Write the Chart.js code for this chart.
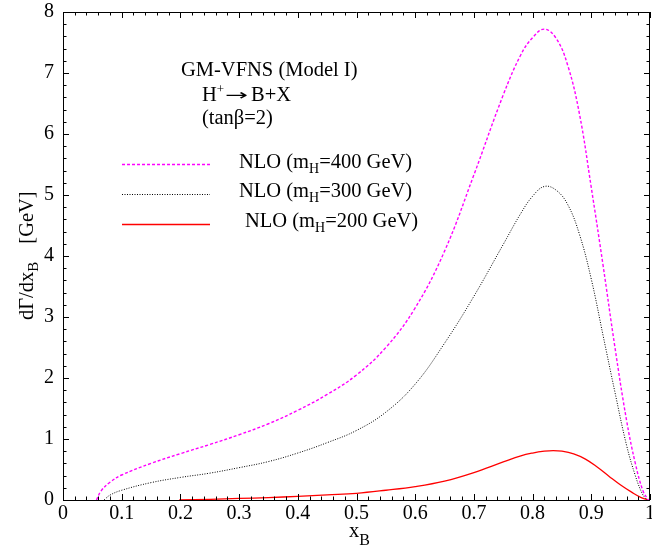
<!DOCTYPE html>
<html>
<head>
<meta charset="utf-8">
<script src="https://cdn.jsdelivr.net/npm/chart.js@4"></script>
<style>
  html, body { margin: 0; padding: 0; background: #fff; }
  #wrap { width: 652px; height: 554px; }
</style>
</head>
<body>
<div id="wrap"><canvas id="c" width="652" height="554"></canvas></div>
<script>
// x_B grid and dGamma/dx_B values [GeV] for each charged-Higgs mass
const xB400 = [0.057, 0.065, 0.08, 0.10, 0.15, 0.20, 0.25, 0.30, 0.35, 0.40, 0.45, 0.50, 0.55, 0.60, 0.65, 0.70, 0.75, 0.78, 0.80, 0.82, 0.84, 0.86, 0.88, 0.90, 0.92, 0.94, 0.96, 0.975, 0.988, 0.997];
const dG400 = [0, 0.15, 0.29, 0.41, 0.60, 0.76, 0.91, 1.07, 1.25, 1.47, 1.73, 2.05, 2.50, 3.15, 4.08, 5.33, 6.64, 7.30, 7.58, 7.72, 7.57, 7.12, 6.32, 5.12, 3.85, 2.52, 1.31, 0.60, 0.15, 0];

const xB300 = [0.07, 0.08, 0.10, 0.15, 0.20, 0.25, 0.30, 0.35, 0.40, 0.45, 0.50, 0.55, 0.60, 0.65, 0.70, 0.75, 0.78, 0.80, 0.82, 0.84, 0.86, 0.88, 0.90, 0.92, 0.94, 0.96, 0.975, 0.987, 0.995];
const dG300 = [0, 0.08, 0.16, 0.285, 0.37, 0.44, 0.53, 0.63, 0.77, 0.94, 1.14, 1.44, 1.90, 2.57, 3.34, 4.19, 4.70, 4.98, 5.14, 5.08, 4.84, 4.35, 3.62, 2.70, 1.78, 0.90, 0.40, 0.10, 0];

const xB200 = [0.198, 0.25, 0.30, 0.35, 0.40, 0.45, 0.50, 0.55, 0.60, 0.65, 0.70, 0.75, 0.78, 0.80, 0.82, 0.835, 0.85, 0.87, 0.89, 0.91, 0.93, 0.95, 0.97, 0.985, 0.997];
const dG200 = [0, 0.01, 0.025, 0.04, 0.06, 0.085, 0.11, 0.16, 0.22, 0.31, 0.45, 0.625, 0.725, 0.77, 0.80, 0.81, 0.80, 0.755, 0.67, 0.54, 0.39, 0.245, 0.12, 0.04, 0];

// axis tick labels
const xTickLabels = ['0', '0.1', '0.2', '0.3', '0.4', '0.5', '0.6', '0.7', '0.8', '0.9', '1'];
const yTickLabels = ['0', '1', '2', '3', '4', '5', '6', '7', '8'];

// legend entries: [text before subscript, subscript, text after]
const seriesLabels = [
  ['NLO (m', 'H', '=400 GeV)'],
  ['NLO (m', 'H', '=300 GeV)'],
  ['NLO (m', 'H', '=200 GeV)']
];
const headerLines = ['GM-VFNS (Model I)', '(tan\u03B2=2)'];
const decayText = ['H', '+', '\u2192', 'B+X'];
const xTitle = ['x', 'B'];
const yTitle = ['d\u0393/dx', 'B', '[GeV]'];

const SERIF = '"Liberation Serif", "DejaVu Serif", serif';
const FS = 20.5;

function pts(xs, ys) { return xs.map((x, i) => ({ x: x, y: ys[i] })); }

const styles = [
  { color: '#ff00ff', width: 1.4, dash: [3, 2] },
  { color: '#000000', width: 1.0, dash: [1, 1.5] },
  { color: '#ff0000', width: 1.3, dash: [] }
];

// Frame with inward major/minor ticks on all four sides
const framePlugin = {
  id: 'frame',
  afterDatasetsDraw(chart) {
    const { ctx, chartArea: a, scales: { x, y } } = chart;
    ctx.save();
    ctx.strokeStyle = '#000';
    ctx.lineWidth = 1;
    ctx.beginPath();
    ctx.rect(a.left + 0.5, a.top + 0.5, a.right - a.left - 1, a.bottom - a.top);
    ctx.stroke();
    const tick = (x1, y1, x2, y2) => { ctx.moveTo(x1, y1); ctx.lineTo(x2, y2); };
    ctx.beginPath();
    for (let k = 0; k <= 50; k++) {
      const v = k * 0.02;
      const px = Math.round(x.getPixelForValue(v)) + 0.5;
      const len = (k % 5 === 0) ? 6 : 3.5;
      tick(px, a.bottom, px, a.bottom - len);
      tick(px, a.top, px, a.top + len);
    }
    for (let k = 0; k <= 40; k++) {
      const v = k * 0.2;
      const py = Math.round(y.getPixelForValue(v)) + 0.5;
      const len = (k % 5 === 0) ? 6 : 3.5;
      tick(a.left, py, a.left + len, py);
      tick(a.right, py, a.right - len, py);
    }
    ctx.stroke();
    ctx.restore();
  }
};

function drawSub(ctx, parts, x, y, big, small, drop) {
  ctx.font = big + 'px ' + SERIF;
  ctx.fillText(parts[0], x, y);
  let cx = x + ctx.measureText(parts[0]).width;
  ctx.font = small + 'px ' + SERIF;
  ctx.fillText(parts[1], cx, y + drop);
  cx += ctx.measureText(parts[1]).width;
  if (parts[2]) {
    ctx.font = big + 'px ' + SERIF;
    ctx.fillText(parts[2], cx, y);
    cx += ctx.measureText(parts[2]).width;
  }
  return cx;
}

// Header text, in-plot legend and axis titles
const textPlugin = {
  id: 'texts',
  afterDraw(chart) {
    const ctx = chart.ctx;
    ctx.save();
    ctx.fillStyle = '#000';
    ctx.textBaseline = 'alphabetic';
    ctx.textAlign = 'left';

    ctx.font = FS + 'px ' + SERIF;
    ctx.fillText(headerLines[0], 181, 76);
    // H+ -> B+X
    ctx.fillText(decayText[0], 202, 101);
    let cx = 202 + ctx.measureText(decayText[0]).width;
    ctx.font = '13px ' + SERIF;
    ctx.fillText(decayText[1], cx, 93);
    // arrow, stretched horizontally
    ctx.save();
    ctx.font = '14px "DejaVu Sans", "DejaVu Serif", sans-serif';
    const aw = ctx.measureText(decayText[2]).width;
    ctx.translate(225, 101);
    ctx.scale(23 / aw, 1.1);
    ctx.fillText(decayText[2], 0, -0.5);
    ctx.restore();
    ctx.font = FS + 'px ' + SERIF;
    ctx.fillText(decayText[3], 251, 101);
    ctx.fillText(headerLines[1], 202, 123.5);

    // legend samples and labels
    const lineY = [164.5, 194.5, 224.5];
    const textX = [239, 239, 245];
    const textY = [168, 197, 227];
    chart.data.datasets.forEach((ds, i) => {
      ctx.save();
      ctx.strokeStyle = ds.borderColor;
      ctx.lineWidth = ds.borderWidth;
      ctx.setLineDash(ds.borderDash || []);
      ctx.beginPath();
      ctx.moveTo(122, lineY[i]);
      ctx.lineTo(210, lineY[i]);
      ctx.stroke();
      ctx.restore();
      drawSub(ctx, seriesLabels[i], textX[i], textY[i], FS, 14, 5);
    });

    // x-axis title
    drawSub(ctx, xTitle, 349, 537, FS, 16, 8);

    // y-axis title (rotated)
    ctx.save();
    ctx.translate(33, 320);
    ctx.rotate(-Math.PI / 2);
    const end = drawSub(ctx, [yTitle[0], yTitle[1]], 0, 0, FS, 15, 5);
    ctx.font = FS + 'px ' + SERIF;
    ctx.fillText(yTitle[2], end + 18, 0);
    ctx.restore();

    ctx.restore();
  }
};

const chart = new Chart(document.getElementById('c'), {
  type: 'line',
  data: {
    datasets: [
      { data: pts(xB400, dG400) },
      { data: pts(xB300, dG300) },
      { data: pts(xB200, dG200) }
    ].map((d, i) => Object.assign(d, {
      borderColor: styles[i].color,
      borderWidth: styles[i].width,
      borderDash: styles[i].dash,
      pointRadius: 0,
      fill: false,
      tension: 0.4
    }))
  },
  options: {
    responsive: false,
    animation: false,
    devicePixelRatio: 1,
    layout: { padding: { left: 0, right: 2, top: 12, bottom: 0 } },
    plugins: { legend: { display: false }, tooltip: { enabled: false }, title: { display: false } },
    scales: {
      x: {
        type: 'linear',
        min: 0, max: 1,
        grid: { display: false, drawTicks: false, tickLength: 0 },
        border: { display: false },
        ticks: {
          stepSize: 0.1,
          padding: 2,
          color: '#000',
          font: { family: SERIF, size: 20 },
          maxRotation: 0,
          autoSkip: false,
          callback: (v) => xTickLabels[Math.round(v * 10)]
        },
        afterFit(s) { s.height = 54; s.paddingLeft = 0; s.paddingRight = 0; }
      },
      y: {
        type: 'linear',
        min: 0, max: 8,
        grid: { display: false, drawTicks: false, tickLength: 0 },
        border: { display: false },
        ticks: {
          stepSize: 1,
          padding: 9,
          color: '#000',
          font: { family: SERIF, size: 20 },
          callback: (v) => yTickLabels[Math.round(v)]
        },
        afterFit(s) { s.width = 63; s.paddingTop = 0; s.paddingBottom = 0; }
      }
    }
  },
  plugins: [framePlugin, textPlugin]
});
</script>
</body>
</html>
